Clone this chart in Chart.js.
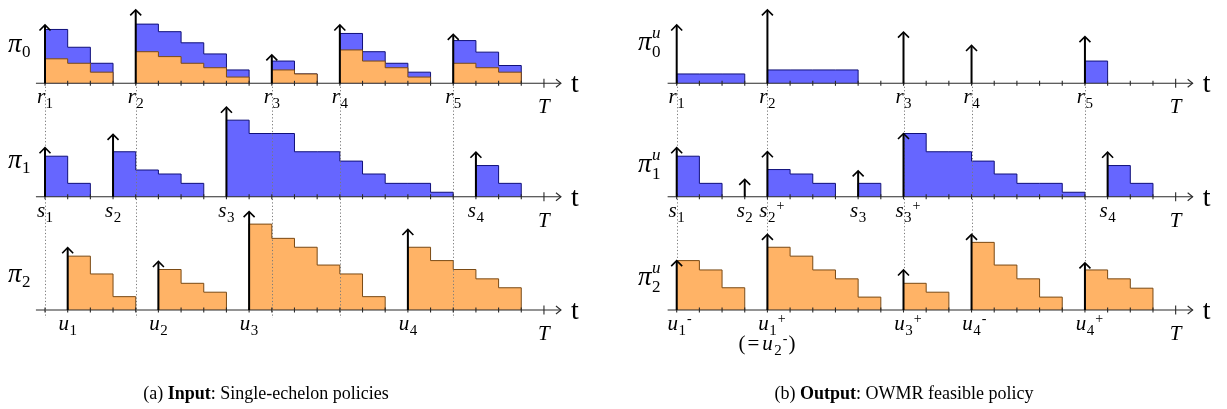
<!DOCTYPE html>
<html>
<head>
<meta charset="utf-8">
<title>OWMR policies</title>
<script src="https://cdn.jsdelivr.net/npm/chart.js@4.4.1/dist/chart.umd.min.js"></script>
<style>
  html, body { margin: 0; padding: 0; background: #fff; }
  #box { position: relative; width: 1227px; height: 409px; overflow: hidden; }
  #plot { position: absolute; left: 0; top: 0; }
  .cap { position: absolute; top: 383px; transform: translateX(-50%); white-space: nowrap;
         font: 18px "Liberation Serif", serif; color: #000; }
</style>
</head>
<body>
<div id="box">
  <canvas id="plot" width="1227" height="409"></canvas>
  <div class="cap" style="left:266px">(a) <b>Input</b>: Single-echelon policies</div>
  <div class="cap" style="left:904px">(b) <b>Output</b>: OWMR feasible policy</div>
</div>
<script>
// ---- values: time in periods, stock in units ----
const T = 22;

// (a) input: single-echelon policies
const rTimes = [0, 4, 10, 13, 18];
const rNames = [['r', '1'], ['r', '2'], ['r', '3'], ['r', '4'], ['r', '5']];
const pi0Total = [[12.1, 8.1, 4.5], [13.3, 11.6, 9.1, 6.6, 3], [5, 2.1], [11.2, 7.1, 4.5, 2.5], [9.6, 7, 4]];
const pi0Part = [[5.5, 4.5, 2.5], [7.1, 6, 4.5, 3.5, 1.4], [3, 2.1], [7.5, 5, 3.5, 1.4], [4.5, 3.5, 2.5]];
const pi0Arrows = [13.1, 16.5, 6.4, 13.1, 11];

const sTimes = [0, 3, 8, 19];
const sNames = [['s', '1'], ['s', '2'], ['s', '3'], ['s', '4']];
const pi1Stock = [[9.1, 3], [10.1, 6, 5.1, 3], [17.2, 14.2, 14.2, 10.1, 10.1, 8, 5.1, 3, 3, 1], [7, 3]];
const pi1Arrows = [11, 14, 20.1, 10];

const uTimes = [1, 5, 9, 16];
const uNames = [['u', '1'], ['u', '2'], ['u', '3'], ['u', '4']];
const pi2Stock = [[12.1, 8.1, 3], [9.1, 6, 4], [19.3, 16.1, 14.1, 10.1, 8.1, 3], [14.1, 11.1, 9.1, 7, 5]];
const pi2Arrows = [14, 10.9, 22.1, 18.1];

// (b) output: OWMR feasible policy
const pi0uStock = [[2.1, 2.1, 2.1], [3, 3, 3, 3], [], [], [5]];
const pi0uArrows = [13.1, 16.5, 11.5, 8.5, 10.5];

const suTimes = [0, 3, 4, 8, 10, 19];
const suNames = [['s', '1'], ['s', '2'], ['s', '2', '+'], ['s', '3'], ['s', '3', '+'], ['s', '4']];
const pi1uStock = [[9.1, 3], [], [6.1, 5.1, 3], [3], [14.2, 10.1, 10.1, 8, 5.1, 3, 3, 1], [7, 3]];
const pi1uArrows = [11, 3.9, 10.1, 5.8, 14.2, 10];

const uuTimes = [0, 4, 10, 13, 18];
const uuNames = [['u', '1', '-'], ['u', '1', '+'], ['u', '3', '+'], ['u', '4', '-'], ['u', '4', '+']];
const pi2uStock = [[11.1, 9, 5], [14.1, 12.1, 9, 7, 2.9], [6, 4], [15.2, 10.1, 7, 2.9], [9, 7, 4.9]];
const pi2uArrows = [11.1, 17, 9, 17, 10.6];

// ---- layout ----
const W = 1227, H = 409;
const PX_T = 22.68;                       // px per period
const PX_Q = 4.45;                        // px per stock unit
const X0 = { xa: 45, xb: 676.7 };         // pixel of t = 0 in each figure
const Y0 = { y0: 83.3, y1: 196.7, y2: 310 }; // baseline of each echelon row
const FONT = '"Liberation Serif", "DejaVu Serif", serif';

const BLUE = '#6666ff', BLUE_LINE = '#10107a';
const ORANGE = '#ffb366', ORANGE_LINE = '#7a4a14';

const panels = [
  { x: 'xa', piX: 8, sup: '', stopAtArrow: false, rows: [
    { y: 'y0', sub: '0', piDy: -31, times: rTimes, arrows: pi0Arrows, names: rNames },
    { y: 'y1', sub: '1', piDy: -29, times: sTimes, arrows: pi1Arrows, names: sNames },
    { y: 'y2', sub: '2', piDy: -28, times: uTimes, arrows: pi2Arrows, names: uNames }
  ]},
  { x: 'xb', piX: 638, sup: 'u', stopAtArrow: true, rows: [
    { y: 'y0', sub: '0', piDy: -33, times: rTimes, arrows: pi0uArrows, names: rNames },
    { y: 'y1', sub: '1', piDy: -25, times: suTimes, arrows: pi1uArrows, names: suNames },
    { y: 'y2', sub: '2', piDy: -25, times: uuTimes, arrows: pi2uArrows, names: uuNames }
  ]}
];

// one stepped, filled line per replenishment run
function steps(times, stock, xId, yId, fill, line, order) {
  const out = [];
  times.forEach((t0, i) => {
    const vals = stock[i];
    if (!vals || !vals.length) return;
    const pts = [{ x: t0, y: 0 }];
    vals.forEach((v, k) => pts.push({ x: t0 + k, y: v }));
    pts.push({ x: t0 + vals.length, y: 0 });
    out.push({
      data: pts, xAxisID: xId, yAxisID: yId, stepped: true, fill: 'origin',
      backgroundColor: fill, borderColor: line, borderWidth: 1,
      pointRadius: 0, tension: 0, order
    });
  });
  return out;
}

const datasets = [
  ...steps(rTimes, pi0Total, 'xa', 'y0', BLUE, BLUE_LINE, 2),
  ...steps(rTimes, pi0Part, 'xa', 'y0', ORANGE, ORANGE_LINE, 1),
  ...steps(sTimes, pi1Stock, 'xa', 'y1', BLUE, BLUE_LINE, 2),
  ...steps(uTimes, pi2Stock, 'xa', 'y2', ORANGE, ORANGE_LINE, 1),
  ...steps(rTimes, pi0uStock, 'xb', 'y0', BLUE, BLUE_LINE, 2),
  ...steps(suTimes, pi1uStock, 'xb', 'y1', BLUE, BLUE_LINE, 2),
  ...steps(uuTimes, pi2uStock, 'xb', 'y2', ORANGE, ORANGE_LINE, 1)
];

const scales = {};
for (const id in X0) {
  scales[id] = { type: 'linear', axis: 'x', display: false, bounds: 'data',
    min: -X0[id] / PX_T, max: (W - X0[id]) / PX_T };
}
for (const id in Y0) {
  scales[id] = { type: 'linear', axis: 'y', display: false, bounds: 'data',
    min: -(H - Y0[id]) / PX_Q, max: Y0[id] / PX_Q };
}

// ---- text with sub/superscripts ----
function pieceFont(p) {
  const it = p.k === 'i' || p.it;
  return (it ? 'italic ' : '') + p.s + 'px ' + FONT;
}

function drawPieces(ctx, pieces, cx, baseY, mode) {
  let x = 0, core = 0, subX = 0;
  const placed = pieces.map(p => {
    ctx.font = pieceFont(p);
    const w = ctx.measureText(p.t).width;
    let px;
    if (p.k === 'over') { px = subX; x = Math.max(x, px + w); }
    else if (p.k === 'sub') { px = x + 0.5; subX = px; x = px + w; }
    else if (p.k === 'sup') { px = x + 1; x = px + w; }
    else { px = x + (p.pad || 0); x = px + w + (p.pad || 0); }
    if (p.k !== 'sup' && p.k !== 'over') core = x;
    return { p, px };
  });
  const left = mode === 'left' ? cx : cx - (mode === 'all' ? x : core) / 2;
  ctx.fillStyle = '#000';
  ctx.textAlign = 'left';
  ctx.textBaseline = 'alphabetic';
  placed.forEach(({ p, px }) => {
    ctx.font = pieceFont(p);
    ctx.fillText(p.t, left + px, baseY + (p.dy || 0));
  });
}

function nameToPieces(n) {
  const out = [{ k: 'i', t: n[0], s: 21 }, { k: 'sub', t: n[1], s: 15, dy: 5 }];
  if (n[2]) out.push({ k: 'sup', t: n[2], s: 14, dy: -7 });
  return out;
}

function piPieces(sub, sup) {
  const out = [{ k: 'i', t: 'π', s: 27 }];
  if (sup) {
    out.push({ k: 'sub', t: sub, s: 17, dy: 7 });
    out.push({ k: 'over', t: sup, s: 17, it: true, dy: -12 });
  } else {
    out.push({ k: 'sub', t: sub, s: 17, dy: 5 });
  }
  return out;
}

function seg(ctx, x1, y1, x2, y2) {
  ctx.beginPath(); ctx.moveTo(x1, y1); ctx.lineTo(x2, y2); ctx.stroke();
}

const sketch = {
  id: 'sketch',
  afterDatasetsDraw(chart) {
    const ctx = chart.ctx;
    const sc = chart.scales;
    ctx.save();
    panels.forEach(panel => {
      const xs = sc[panel.x];
      const last = panel.rows[2];

      // dotted guides below each r_i
      ctx.strokeStyle = '#7a7a7a';
      ctx.lineWidth = 1;
      ctx.setLineDash([1.2, 2.2]);
      rTimes.forEach(t => {
        const top = sc.y0.getPixelForValue(0);
        let bottom = sc.y2.getPixelForValue(0) + 8;
        if (panel.stopAtArrow) {
          const k = last.times.indexOf(t);
          if (k >= 0) bottom = sc.y2.getPixelForValue(last.arrows[k]);
        }
        const x = Math.round(xs.getPixelForValue(t)) + 0.5;
        seg(ctx, x, top, x, bottom);
      });
      ctx.setLineDash([]);

      panel.rows.forEach(row => {
        const ys = sc[row.y];
        const y = ys.getPixelForValue(0);
        const xl = xs.getPixelForValue(-0.4);
        const xr = xs.getPixelForValue(T + 0.75);

        // time axis
        ctx.strokeStyle = '#2a2a2a';
        ctx.lineWidth = 1.1;
        seg(ctx, xl, y, xr, y);
        ctx.beginPath();
        ctx.moveTo(xr - 5, y - 4); ctx.lineTo(xr, y); ctx.lineTo(xr - 5, y + 4);
        ctx.stroke();
        for (let k = 0; k <= T; k++) {
          const x = xs.getPixelForValue(k);
          const h = k === T ? 4.5 : 2.5;
          seg(ctx, x, y - h, x, y + h);
        }
        drawPieces(ctx, [{ k: 'r', t: 't', s: 28 }], xr + 10, y + 9, 'left');
        drawPieces(ctx, [{ k: 'i', t: 'T', s: 21 }], xs.getPixelForValue(T), y + 30, 'all');

        // order arrows
        ctx.strokeStyle = '#000';
        row.times.forEach((t, i) => {
          const x = xs.getPixelForValue(t);
          const yt = ys.getPixelForValue(row.arrows[i]);
          ctx.lineWidth = 2;
          seg(ctx, x, y, x, yt + 1);
          ctx.lineWidth = 1.6;
          ctx.beginPath();
          ctx.moveTo(x - 5.5, yt + 5.5); ctx.lineTo(x, yt); ctx.lineTo(x + 5.5, yt + 5.5);
          ctx.stroke();
        });

        // order time labels
        row.times.forEach((t, i) => {
          drawPieces(ctx, nameToPieces(row.names[i]), xs.getPixelForValue(t), y + 20, 'core');
        });

        // echelon label
        drawPieces(ctx, piPieces(row.sub, panel.sup), panel.piX, y + row.piDy, 'left');
      });
    });

    // u1+ also equals u2-
    const xb = sc.xb;
    drawPieces(ctx, [
      { k: 'r', t: '(', s: 21 }, { k: 'r', t: '=', s: 21, pad: 2 }, { k: 'i', t: 'u', s: 21, pad: 1 },
      { k: 'sub', t: '2', s: 15, dy: 5 }, { k: 'sup', t: '-', s: 14, dy: -7 }, { k: 'r', t: ')', s: 21, pad: 1 }
    ], xb.getPixelForValue(uuTimes[1]), sc.y2.getPixelForValue(0) + 40, 'all');
    ctx.restore();
  }
};

new Chart(document.getElementById('plot'), {
  type: 'line',
  data: { datasets },
  options: {
    responsive: false,
    animation: false,
    layout: { padding: 0 },
    scales,
    plugins: { legend: { display: false }, tooltip: { enabled: false }, title: { display: false } },
    events: []
  },
  plugins: [sketch]
});
</script>
</body>
</html>
